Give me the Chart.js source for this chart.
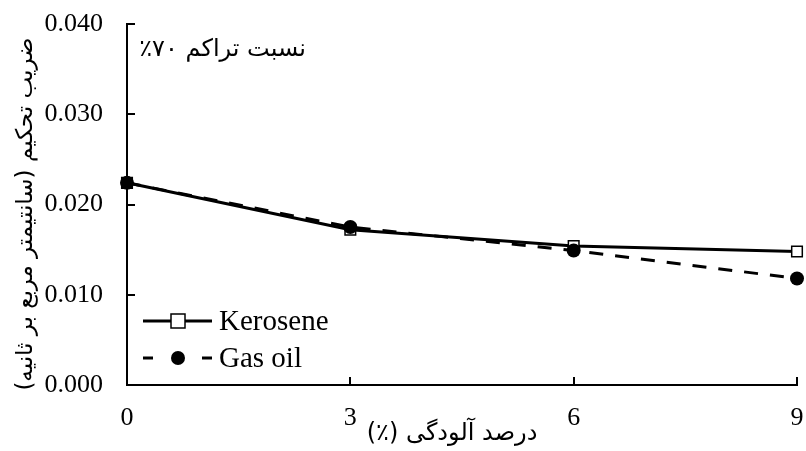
<!DOCTYPE html>
<html>
<head>
<meta charset="utf-8">
<script src="https://cdn.jsdelivr.net/npm/chart.js@4"></script>
<style>
  html, body { margin: 0; padding: 0; background: #fff; }
  #wrap { width: 806px; height: 451px; }
</style>
</head>
<body>
<div id="wrap"><canvas id="chart" width="806" height="451"></canvas></div>
<script>
const xValues = [0, 3, 6, 9];
const keroseneValues = [0.0224, 0.0172, 0.0154, 0.0148];
const gasOilValues = [0.0224, 0.0175, 0.0149, 0.0118];
const yTicks = [0, 0.01, 0.02, 0.03, 0.04];

const yTitle = "ضریب تحکیم (سانتیمتر مربع بر ثانیه)";
const xTitle = "درصد آلودگی (٪)";
const noteText = "نسبت تراکم ۷۰٪";

const SERIF = "'Liberation Serif', 'Times New Roman', serif";
const FARSI = "'DejaVu Sans', sans-serif";

const toPoints = (vals) => vals.map((v, i) => ({ x: xValues[i], y: v }));

// ticks pointing into the plot, titles, note and legend drawn over the chart
const decorPlugin = {
    id: "decor",
    afterDraw(chart) {
        const { ctx, chartArea: a, scales } = chart;
        ctx.save();
        ctx.strokeStyle = "#000";
        ctx.lineWidth = 2;
        ctx.beginPath();
        scales.x.ticks.forEach((t) => {
            const px = Math.round(scales.x.getPixelForValue(t.value));
            ctx.moveTo(px, a.bottom);
            ctx.lineTo(px, a.bottom - 8);
        });
        scales.y.ticks.forEach((t) => {
            const py = Math.round(scales.y.getPixelForValue(t.value));
            ctx.moveTo(a.left, py);
            ctx.lineTo(a.left + 8, py);
        });
        ctx.stroke();

        ctx.fillStyle = "#000";
        ctx.direction = "rtl";
        ctx.font = `24px ${FARSI}`;
        ctx.textAlign = "right";
        ctx.textBaseline = "middle";
        ctx.fillText(noteText, 306, 50);

        ctx.textAlign = "center";
        ctx.font = `24px ${FARSI}`;
        ctx.fillText(xTitle, 452, 434);

        ctx.save();
        ctx.translate(26, 214);
        ctx.rotate(-Math.PI / 2);
        ctx.font = `23px ${FARSI}`;
        ctx.fillText(yTitle, 0, 0);
        ctx.restore();

        // legend
        ctx.direction = "ltr";
        ctx.lineWidth = 3;
        ctx.setLineDash([]);
        ctx.beginPath();
        ctx.moveTo(143, 321);
        ctx.lineTo(212, 321);
        ctx.stroke();
        ctx.fillStyle = "#fff";
        ctx.lineWidth = 1.5;
        ctx.fillRect(171, 314, 14, 14);
        ctx.strokeRect(171, 314, 14, 14);

        ctx.lineWidth = 3;
        ctx.beginPath();
        ctx.moveTo(143, 358);
        ctx.lineTo(153, 358);
        ctx.moveTo(202, 358);
        ctx.lineTo(212, 358);
        ctx.stroke();
        ctx.fillStyle = "#000";
        ctx.beginPath();
        ctx.arc(178, 358, 7, 0, Math.PI * 2);
        ctx.fill();

        ctx.font = `29px ${SERIF}`;
        ctx.textAlign = "left";
        ctx.fillText("Kerosene", 219, 322);
        ctx.fillText("Gas oil", 219, 359);
        ctx.restore();
    },
};

new Chart(document.getElementById("chart"), {
    type: "line",
    data: {
        datasets: [
            {
                label: "Kerosene",
                data: toPoints(keroseneValues),
                borderColor: "#000",
                borderWidth: 3,
                pointStyle: "rect",
                pointRadius: 7.5,
                pointBackgroundColor: ["#000", "#fff", "#fff", "#fff"],
                pointBorderColor: "#000",
                pointBorderWidth: 1.5,
                clip: false,
                order: 1,
            },
            {
                label: "Gas oil",
                data: toPoints(gasOilValues),
                borderColor: "#000",
                borderWidth: 3,
                borderDash: [14, 12],
                pointStyle: "circle",
                pointRadius: 7,
                pointBorderWidth: 0,
                pointBackgroundColor: "#000",
                pointBorderColor: "#000",
                clip: false,
                order: 0,
            },
        ],
    },
    options: {
        responsive: false,
        animation: false,
        layout: { padding: { top: 24, right: 8, left: 0, bottom: 0 } },
        plugins: { legend: { display: false }, tooltip: { enabled: false } },
        elements: { line: { tension: 0 } },
        scales: {
            x: {
                type: "linear",
                min: 0,
                max: 9,
                afterBuildTicks: (s) => { s.ticks = xValues.map((v) => ({ value: v })); },
                afterFit: (s) => {
                    s.height = 66;
                    s.paddingLeft = 0;
                    s.paddingRight = 0;
                },
                border: { display: true, color: "#000", width: 2 },
                grid: { display: false, drawTicks: false },
                ticks: {
                    color: "#000",
                    font: { family: SERIF, size: 26 },
                    padding: 18,
                    maxRotation: 0,
                },
            },
            y: {
                min: 0,
                max: 0.04,
                afterBuildTicks: (s) => { s.ticks = yTicks.map((v) => ({ value: v })); },
                afterFit: (s) => {
                    s.width = 127;
                    s.paddingTop = 0;
                    s.paddingBottom = 0;
                },
                border: { display: true, color: "#000", width: 2 },
                grid: { display: false, drawTicks: false },
                ticks: {
                    color: "#000",
                    font: { family: SERIF, size: 26 },
                    padding: 24,
                    callback: (v) => Number(v).toFixed(3),
                },
            },
        },
    },
    plugins: [decorPlugin],
});
</script>
</body>
</html>
